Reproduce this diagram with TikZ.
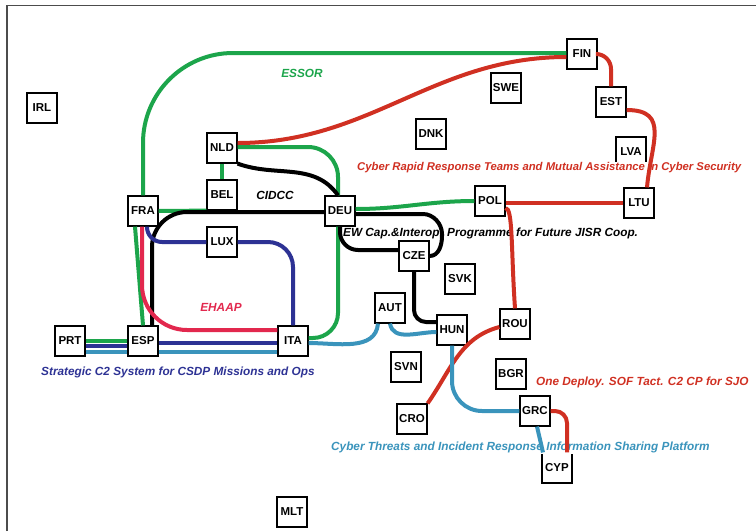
\documentclass[tikz,border=0pt]{standalone}
\usepackage{fontspec}
\setmainfont{Liberation Sans}
\definecolor{essorgreen}{RGB}{28,165,75}
\definecolor{cyberred}{RGB}{208,48,34}
\definecolor{csdpblue}{RGB}{45,50,148}
\definecolor{ehaappink}{RGB}{226,40,78}
\definecolor{threatblue}{RGB}{58,148,188}
\tikzset{
  country/.style={draw, line width=1.2pt, fill=white, minimum size=30pt, inner sep=0pt,
    font=\fontsize{11.5}{12}\selectfont\bfseries},
  project/.style={font=\fontsize{11.8}{12}\selectfont\bfseries\itshape, inner sep=1pt},
  link/.style={line width=4pt, rounded corners=#1},
  link/.default=1pt
}
\begin{document}
\begin{tikzpicture}[x=1pt,y=-1pt]
\useasboundingbox (0,0) rectangle (756,531);
\draw[black!70, line width=1.2pt] (7,531) -- (7,5.5) -- (756,5.5);

% countries
\node[country] (irl) at (42,108) {IRL};
\node[country] (nld) at (222,148) {NLD};
\node[country] (bel) at (222,195) {BEL};
\node[country] (fra) at (143,211) {FRA};
\node[country] (deu) at (340,211) {DEU};
\node[country] (lux) at (222,242) {LUX};
\node[country] (prt) at (70,341) {PRT};
\node[country] (esp) at (143,341) {ESP};
\node[country] (ita) at (293,341) {ITA};
\node[country] (fin) at (582,54) {FIN};
\node[country] (swe) at (506,88) {SWE};
\node[country] (est) at (611,102) {EST};
\node[country] (dnk) at (431,134) {DNK};
\node[country] (lva) at (631,152) {LVA};
\node[country] (pol) at (490,201) {POL};
\node[country] (ltu) at (639,203) {LTU};
\node[country] (cze) at (414,256) {CZE};
\node[country] (svk) at (460,279) {SVK};
\node[country] (aut) at (390,308) {AUT};
\node[country] (hun) at (452,330) {HUN};
\node[country] (rou) at (515,324) {ROU};
\node[country] (svn) at (406,367) {SVN};
\node[country] (bgr) at (511,374) {BGR};
\node[country] (grc) at (535,411) {GRC};
\node[country] (cro) at (412,419) {CRO};
\node[country] (cyp) at (557,468) {CYP};
\node[country] (mlt) at (292,512) {MLT};

% projects
\node[project, essorgreen] (essor) at (302,73) {ESSOR};
\node[project] (cidcc) at (275,195) {CIDCC};
\node[project, cyberred, fill=white, anchor=west, font=\fontsize{11.3}{12}\selectfont\bfseries\itshape] (rapid) at (356,168) {Cyber Rapid Response Teams and Mutual Assistance in Cyber Security};
\node[project, anchor=west] (jisr) at (342,233) {EW Cap.\&Interop. Programme for Future JISR Coop.};
\node[project, ehaappink] (ehaap) at (221,307) {EHAAP};
\node[project, csdpblue, anchor=west] (csdp) at (40,372) {Strategic C2 System for CSDP Missions and Ops};
\node[project, cyberred, anchor=west] (sof) at (535,382) {One Deploy. SOF Tact. C2 CP for SJO};
\node[project, threatblue, fill=white, anchor=west] (threat) at (330,447) {Cyber Threats and Incident Response Information Sharing Platform};

% ESSOR
\draw[link=90pt, essorgreen] (fra.north) |- ([yshift=1pt]fin.west);
\draw[link, essorgreen] (prt.east) -- (esp.west);
\draw[link, essorgreen] (esp.north) -- ([xshift=-8pt]fra.south);
\draw[link, essorgreen] (fra.east) -- (bel.south west);
\draw[link, essorgreen] (bel) -- (nld);
\draw[link=30pt, essorgreen] ([yshift=1pt]nld.east) -| ([xshift=-2pt]deu.north);
\draw[link=25pt, essorgreen] ([xshift=-2pt]deu.south) |- ([yshift=3pt]ita.east);
\draw[link, essorgreen] ([yshift=2pt]deu.east) to[out=0,in=180] (pol.west);

% cyber rapid response / SOF
\draw[link, cyberred] ([yshift=5pt]nld.east) to[out=0,in=180] ([yshift=-3pt]fin.west);
\draw[link=15pt, cyberred] (fin.east) -| (est.north);
\draw[link, cyberred] ([yshift=-8pt]est.east) to[out=0,in=85,looseness=1.4] ([xshift=8pt]ltu.north);
\draw[link, cyberred] ([yshift=-2pt]pol.east) -- (ltu.west);
\draw[link, cyberred] ([yshift=-7pt]pol.east) .. controls (513,208) and (511,250) .. (rou.north);
\draw[link, cyberred] ([yshift=-3pt]rou.west) to[out=195,in=55] (cro.north east);
\draw[link=12pt, cyberred] (grc.east) -| ([xshift=10pt]cyp.north);

% EW / JISR
\draw[link, black] (nld.south east) to[out=-20,in=125] ([xshift=-2pt]deu.north);
\draw[link=35pt, black] ([xshift=9pt]esp.north) |- ([yshift=-1pt]deu.west);
\draw[link=18pt, black] (deu.south) |- ([yshift=6pt]cze.west);
\draw[link, black] ([yshift=-3pt]deu.east) -- (422,214) to[out=0,in=90] (442,235) to[out=-90,in=0] (cze.east);
\draw[link=12pt, black] (cze.south) |- ([yshift=8pt]hun.west);

% strategic C2
\draw[link=15pt, csdpblue] ([xshift=4pt]fra.south) |- (lux.west);
\draw[link=25pt, csdpblue] (lux.east) -| (ita.north);
\draw[link, csdpblue] ([yshift=-5pt]prt.east) -- ([yshift=-5pt]esp.west);
\draw[link, csdpblue] ([yshift=-2pt]esp.east) -- ([yshift=-2pt]ita.west);

% EHAAP
\draw[link=45pt, ehaappink] ([xshift=-1pt]fra.south) |- ([yshift=11pt]ita.west);

% cyber threats
\draw[link, threatblue] ([yshift=-11pt]prt.east) -- ([yshift=-11pt]esp.west);
\draw[link, threatblue] ([yshift=-11pt]esp.east) -- ([yshift=-11pt]ita.west);
\draw[link, threatblue] ([yshift=-2pt]ita.east) to[out=0,in=-95] ([xshift=-12pt]aut.south);
\draw[link, threatblue] (aut.south) to[out=-80,in=180] ([yshift=-2pt]hun.west);
\draw[link=30pt, threatblue] (hun.south) |- (grc.west);
\draw[link, threatblue] ([xshift=2pt]grc.south) -- ([xshift=-14pt]cyp.north);
\end{tikzpicture}
\end{document}
